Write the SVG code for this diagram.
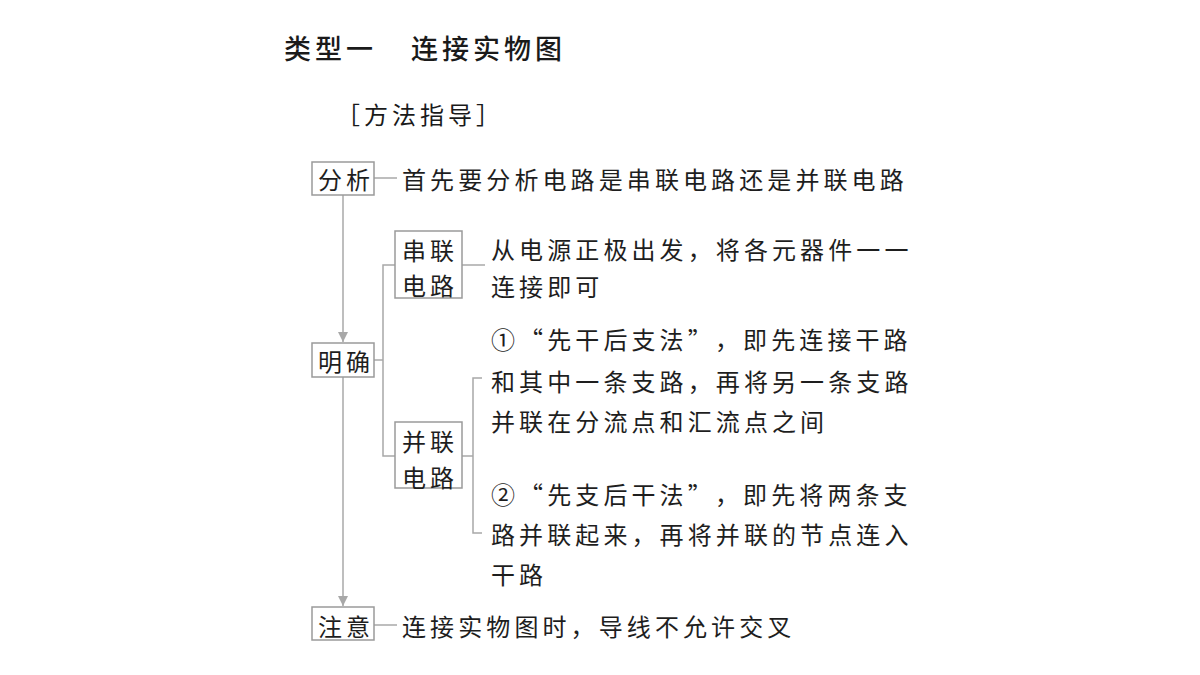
<svg xmlns="http://www.w3.org/2000/svg" width="1200" height="675" viewBox="0 0 1200 675">
<defs>
<style>
.t{font-family:"Noto Sans CJK SC","Noto Sans",sans-serif;font-size:24px;fill:#1e1e1e;letter-spacing:4.1px;dominant-baseline:central}
.box{fill:#fff;stroke:#9a9a9a;stroke-width:1.5}
.ln{fill:none;stroke:#a8a8a8;stroke-width:1.5}
.title{font-family:"Noto Sans CJK SC","Noto Sans",sans-serif;font-size:27px;font-weight:500;fill:#1a1a1a;letter-spacing:4px;dominant-baseline:central}
.sub{font-family:"Noto Sans CJK SC","Noto Sans",sans-serif;font-size:24px;fill:#1a1a1a;letter-spacing:4px;dominant-baseline:central}
</style>
<marker id="arr" viewBox="0 0 10 10" refX="10" refY="5" markerWidth="10" markerHeight="10" markerUnits="userSpaceOnUse" orient="auto">
<path d="M0,0 L10,5 L0,10 Z" fill="#a8a8a8"/>
</marker>
</defs>
<rect width="1200" height="675" fill="#fff"/>
<text class="title" x="284" y="47">类型一</text>
<text class="title" x="411" y="47">连接实物图</text>
<text class="sub" x="336" y="113">［方法指导］</text>

<g id="connectors">
<line class="ln" x1="374" y1="178" x2="397" y2="178"/>
<line class="ln" x1="343" y1="195" x2="343" y2="342" marker-end="url(#arr)"/>
<line class="ln" x1="374" y1="360" x2="383" y2="360"/>
<polyline class="ln" points="395,265 383,265 383,456 395,456"/>
<line class="ln" x1="462" y1="265" x2="485" y2="265"/>
<line class="ln" x1="462" y1="456" x2="473" y2="456"/>
<polyline class="ln" points="482,378 473,378 473,533 482,533"/>
<line class="ln" x1="343" y1="377" x2="343" y2="606" marker-end="url(#arr)"/>
<line class="ln" x1="374" y1="625" x2="397" y2="625"/>
</g>

<g id="n-fenxi">
<rect class="box" x="312" y="162" width="62" height="33"/>
<text class="t" x="318" y="178">分析</text>
</g>
<g id="t-fenxi">
<text class="t" x="402" y="178">首先要分析电路是串联电路还是并联电路</text>
</g>

<g id="n-mingque">
<rect class="box" x="312" y="343" width="62" height="34"/>
<text class="t" x="318" y="360">明确</text>
</g>

<g id="n-chuanlian">
<rect class="box" x="395" y="231" width="67" height="67"/>
<text class="t" x="402" y="249">串联</text>
<text class="t" x="402" y="284">电路</text>
</g>
<g id="t-chuanlian">
<text class="t" x="491" y="248">从电源正极出发，将各元器件一一</text>
<text class="t" x="491" y="285">连接即可</text>
</g>

<g id="n-binglian">
<rect class="box" x="395" y="422" width="67" height="66"/>
<text class="t" x="402" y="440">并联</text>
<text class="t" x="402" y="476">电路</text>
</g>
<g id="t-binglian">
<text class="t" x="491" y="338">①“先干后支法”<tspan x="715">，即先连接干路</tspan></text>
<text class="t" x="491" y="380">和其中一条支路，再将另一条支路</text>
<text class="t" x="491" y="420">并联在分流点和汇流点之间</text>
<text class="t" x="491" y="493">②“先支后干法”<tspan x="715">，即先将两条支</tspan></text>
<text class="t" x="491" y="533">路并联起来，再将并联的节点连入</text>
<text class="t" x="491" y="573">干路</text>
</g>

<g id="n-zhuyi">
<rect class="box" x="312" y="607" width="62" height="33"/>
<text class="t" x="318" y="625">注意</text>
</g>
<g id="t-zhuyi">
<text class="t" x="402" y="625">连接实物图时，导线不允许交叉</text>
</g>
</svg>
